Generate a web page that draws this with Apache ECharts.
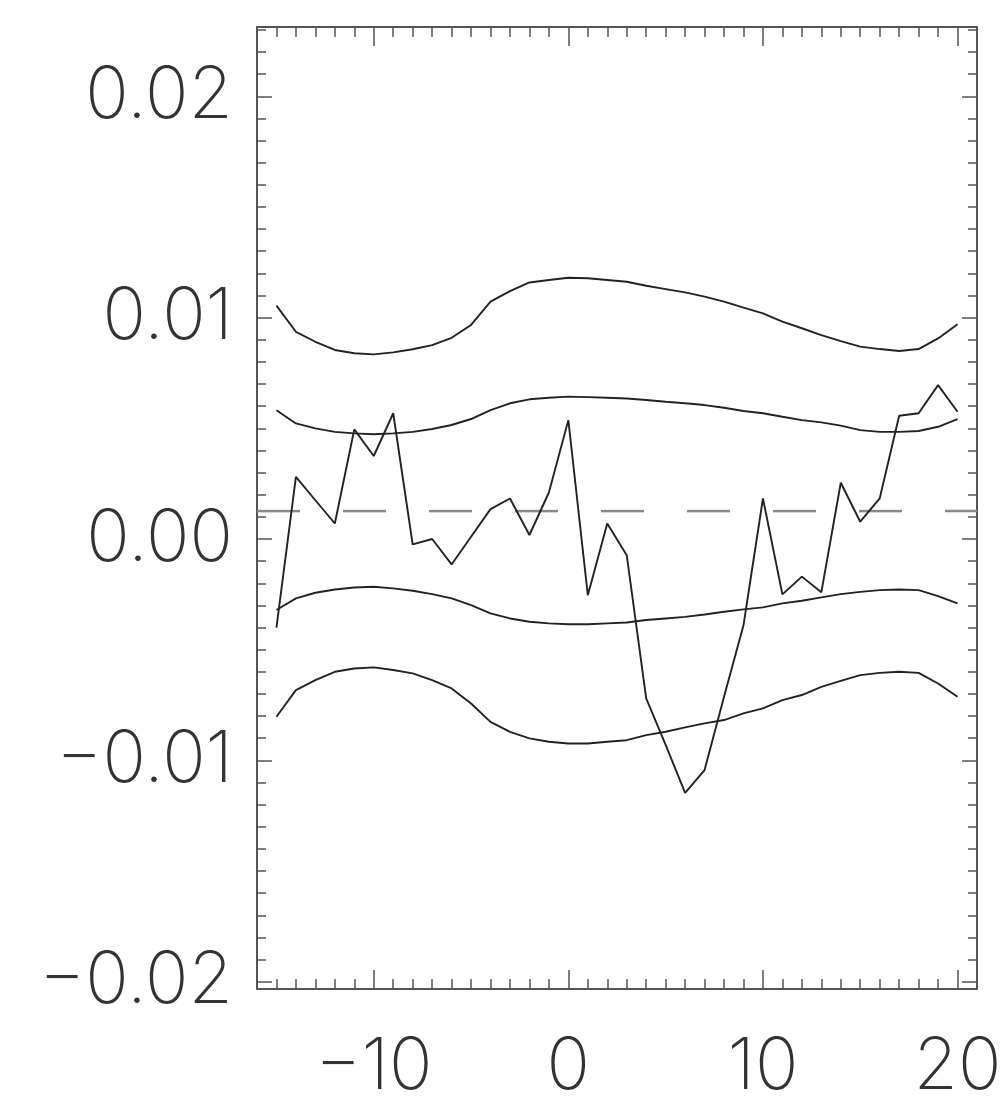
<!DOCTYPE html>
<html><head><meta charset="utf-8">
<script src="https://cdn.jsdelivr.net/npm/echarts@6/dist/echarts.min.js"></script>
<style>html,body{margin:0;padding:0;background:#fff;overflow:hidden}#c{width:1003px;height:1101px}</style>
</head><body><div id="c"></div>
<script>
const xSamples = [-15,-14,-13,-12,-11,-10,-9,-8,-7,-6,-5,-4,-3,-2,-1,0,1,2,3,4,5,6,7,8,9,10,11,12,13,14,15,16,17,18,19,20];
const signal = [-0.0040,0.00281,0.00175,0.0007,0.00495,0.00375,0.00568,-0.00024,0.0000,-0.00115,0.0001,0.00135,0.00183,0.00018,0.0021,0.00537,-0.00254,0.0007,-0.00073,-0.0072,-0.0093,-0.01147,-0.01044,-0.00713,-0.0039,0.00183,-0.0025,-0.0017,-0.00241,0.00254,0.00078,0.00183,0.00557,0.00568,0.00695,0.00575];
const upperOuter = [0.01054,0.00936,0.00891,0.00854,0.00839,0.00834,0.00843,0.00857,0.00876,0.00909,0.00967,0.01072,0.01120,0.01159,0.01170,0.01180,0.01178,0.01170,0.01162,0.01144,0.01129,0.01114,0.01095,0.01072,0.01045,0.01019,0.00982,0.00952,0.00921,0.00894,0.00869,0.00858,0.00849,0.00858,0.00906,0.00970];
const upperInner = [0.00582,0.00522,0.00500,0.00484,0.00477,0.00473,0.00477,0.00484,0.00497,0.00515,0.00542,0.00582,0.00613,0.00631,0.00638,0.00643,0.00641,0.00638,0.00635,0.00628,0.00620,0.00613,0.00605,0.00593,0.00578,0.00568,0.00552,0.00537,0.00527,0.00512,0.00492,0.00484,0.00484,0.00488,0.00507,0.00542];
const lowerInner = [-0.00321,-0.00268,-0.00243,-0.00228,-0.00219,-0.00216,-0.00223,-0.00234,-0.00249,-0.00268,-0.00299,-0.00336,-0.00359,-0.00374,-0.00381,-0.00385,-0.00385,-0.00381,-0.00377,-0.00366,-0.00359,-0.00352,-0.00341,-0.00329,-0.00318,-0.00309,-0.00291,-0.00279,-0.00264,-0.00249,-0.00239,-0.00231,-0.00228,-0.00231,-0.00258,-0.00291];
const lowerOuter = [-0.00803,-0.00683,-0.00638,-0.00600,-0.00585,-0.00580,-0.00592,-0.00607,-0.00638,-0.00675,-0.00743,-0.00826,-0.00871,-0.00901,-0.00916,-0.00924,-0.00924,-0.00916,-0.00909,-0.00886,-0.00871,-0.00851,-0.00833,-0.00818,-0.00788,-0.00765,-0.00728,-0.00705,-0.00668,-0.00641,-0.00615,-0.00605,-0.00600,-0.00605,-0.00653,-0.00713];
const refLevel = 0.00126;

const xRange = [-16, 21];
const yRange = [-0.02033, 0.02313];
const xTickValues = [-10, 0, 10, 20];
const xTickLabels = ['\u221210', '0', '10', '20'];
const xMinorValues = [-15,-14,-13,-12,-11,-9,-8,-7,-6,-5,-4,-3,-2,-1,1,2,3,4,5,6,7,8,9,11,12,13,14,15,16,17,18,19];
const yTickValues = [-0.02, -0.01, 0, 0.01, 0.02];
const yTickLabels = ['\u22120.02', '\u22120.01', '0.00', '0.01', '0.02'];
const yMinorValues = [-0.019,-0.018,-0.017,-0.016,-0.015,-0.014,-0.013,-0.012,-0.011,-0.009,-0.008,-0.007,-0.006,-0.005,-0.004,-0.003,-0.002,-0.001,0.001,0.002,0.003,0.004,0.005,0.006,0.007,0.008,0.009,0.011,0.012,0.013,0.014,0.015,0.016,0.017,0.018,0.019,0.021,0.022,0.023];

const frameColor = '#555';
const labelStyle = { fontFamily: 'Inter', fontWeight: 200, fontSize: 72, color: '#333' };
function lookup(vals, labs) {
  return function (v) {
    for (let i = 0; i < vals.length; i++) if (Math.abs(vals[i] - v) < 1e-9) return labs[i];
    return '';
  };
}
function xAxisDef(pos, ticks, len, withLine, withLabel) {
  return {
    type: 'value', min: xRange[0], max: xRange[1], position: pos,
    axisLine: { show: withLine, onZero: false, lineStyle: { color: frameColor, width: 2 } },
    axisTick: { show: true, inside: true, length: len, customValues: ticks, lineStyle: { color: frameColor, width: 1.5 } },
    axisLabel: withLabel ? Object.assign({ show: true, customValues: xTickValues, margin: 42, formatter: lookup(xTickValues, xTickLabels) }, labelStyle) : { show: false },
    splitLine: { show: false }
  };
}
function yAxisDef(pos, ticks, len, withLine, withLabel) {
  return {
    type: 'value', min: yRange[0], max: yRange[1], position: pos,
    axisLine: { show: withLine, onZero: false, lineStyle: { color: frameColor, width: 2 } },
    axisTick: { show: true, inside: true, length: len, customValues: ticks, lineStyle: { color: frameColor, width: 1.5 } },
    axisLabel: withLabel ? Object.assign({ show: true, customValues: yTickValues, margin: 24, formatter: lookup(yTickValues, yTickLabels) }, labelStyle) : { show: false },
    splitLine: { show: false }
  };
}
function lineSeries(arr) {
  return {
    type: 'line', xAxisIndex: 0, yAxisIndex: 0, showSymbol: false, symbol: 'none', smooth: false,
    data: xSamples.map((x, i) => [x, arr[i]]),
    lineStyle: { color: '#222', width: 1.9 }, silent: true
  };
}
const chart = echarts.init(document.getElementById('c'), null, { renderer: 'canvas' });
chart.setOption({
  animation: false,
  backgroundColor: '#fff',
  grid: { left: 257, top: 27, right: 26, bottom: 112, containLabel: false, outerBoundsMode: 'none' },
  xAxis: [
    xAxisDef('bottom', xTickValues, 19, true, true),
    xAxisDef('bottom', xMinorValues, 10, false, false),
    xAxisDef('top', xTickValues, 19, true, false),
    xAxisDef('top', xMinorValues, 10, false, false)
  ],
  yAxis: [
    yAxisDef('left', yTickValues, 15, true, true),
    yAxisDef('left', yMinorValues, 9, false, false),
    yAxisDef('right', yTickValues, 15, true, false),
    yAxisDef('right', yMinorValues, 9, false, false)
  ],
  series: [
    {
      type: 'line', xAxisIndex: 0, yAxisIndex: 0, showSymbol: false, symbol: 'none', silent: true,
      data: [[xRange[0], refLevel], [xRange[1], refLevel]],
      lineStyle: { color: '#888', width: 2.5, type: [43, 43] }
    },
    lineSeries(upperOuter),
    lineSeries(upperInner),
    lineSeries(lowerInner),
    lineSeries(lowerOuter),
    lineSeries(signal)
  ]
});
</script></body></html>
